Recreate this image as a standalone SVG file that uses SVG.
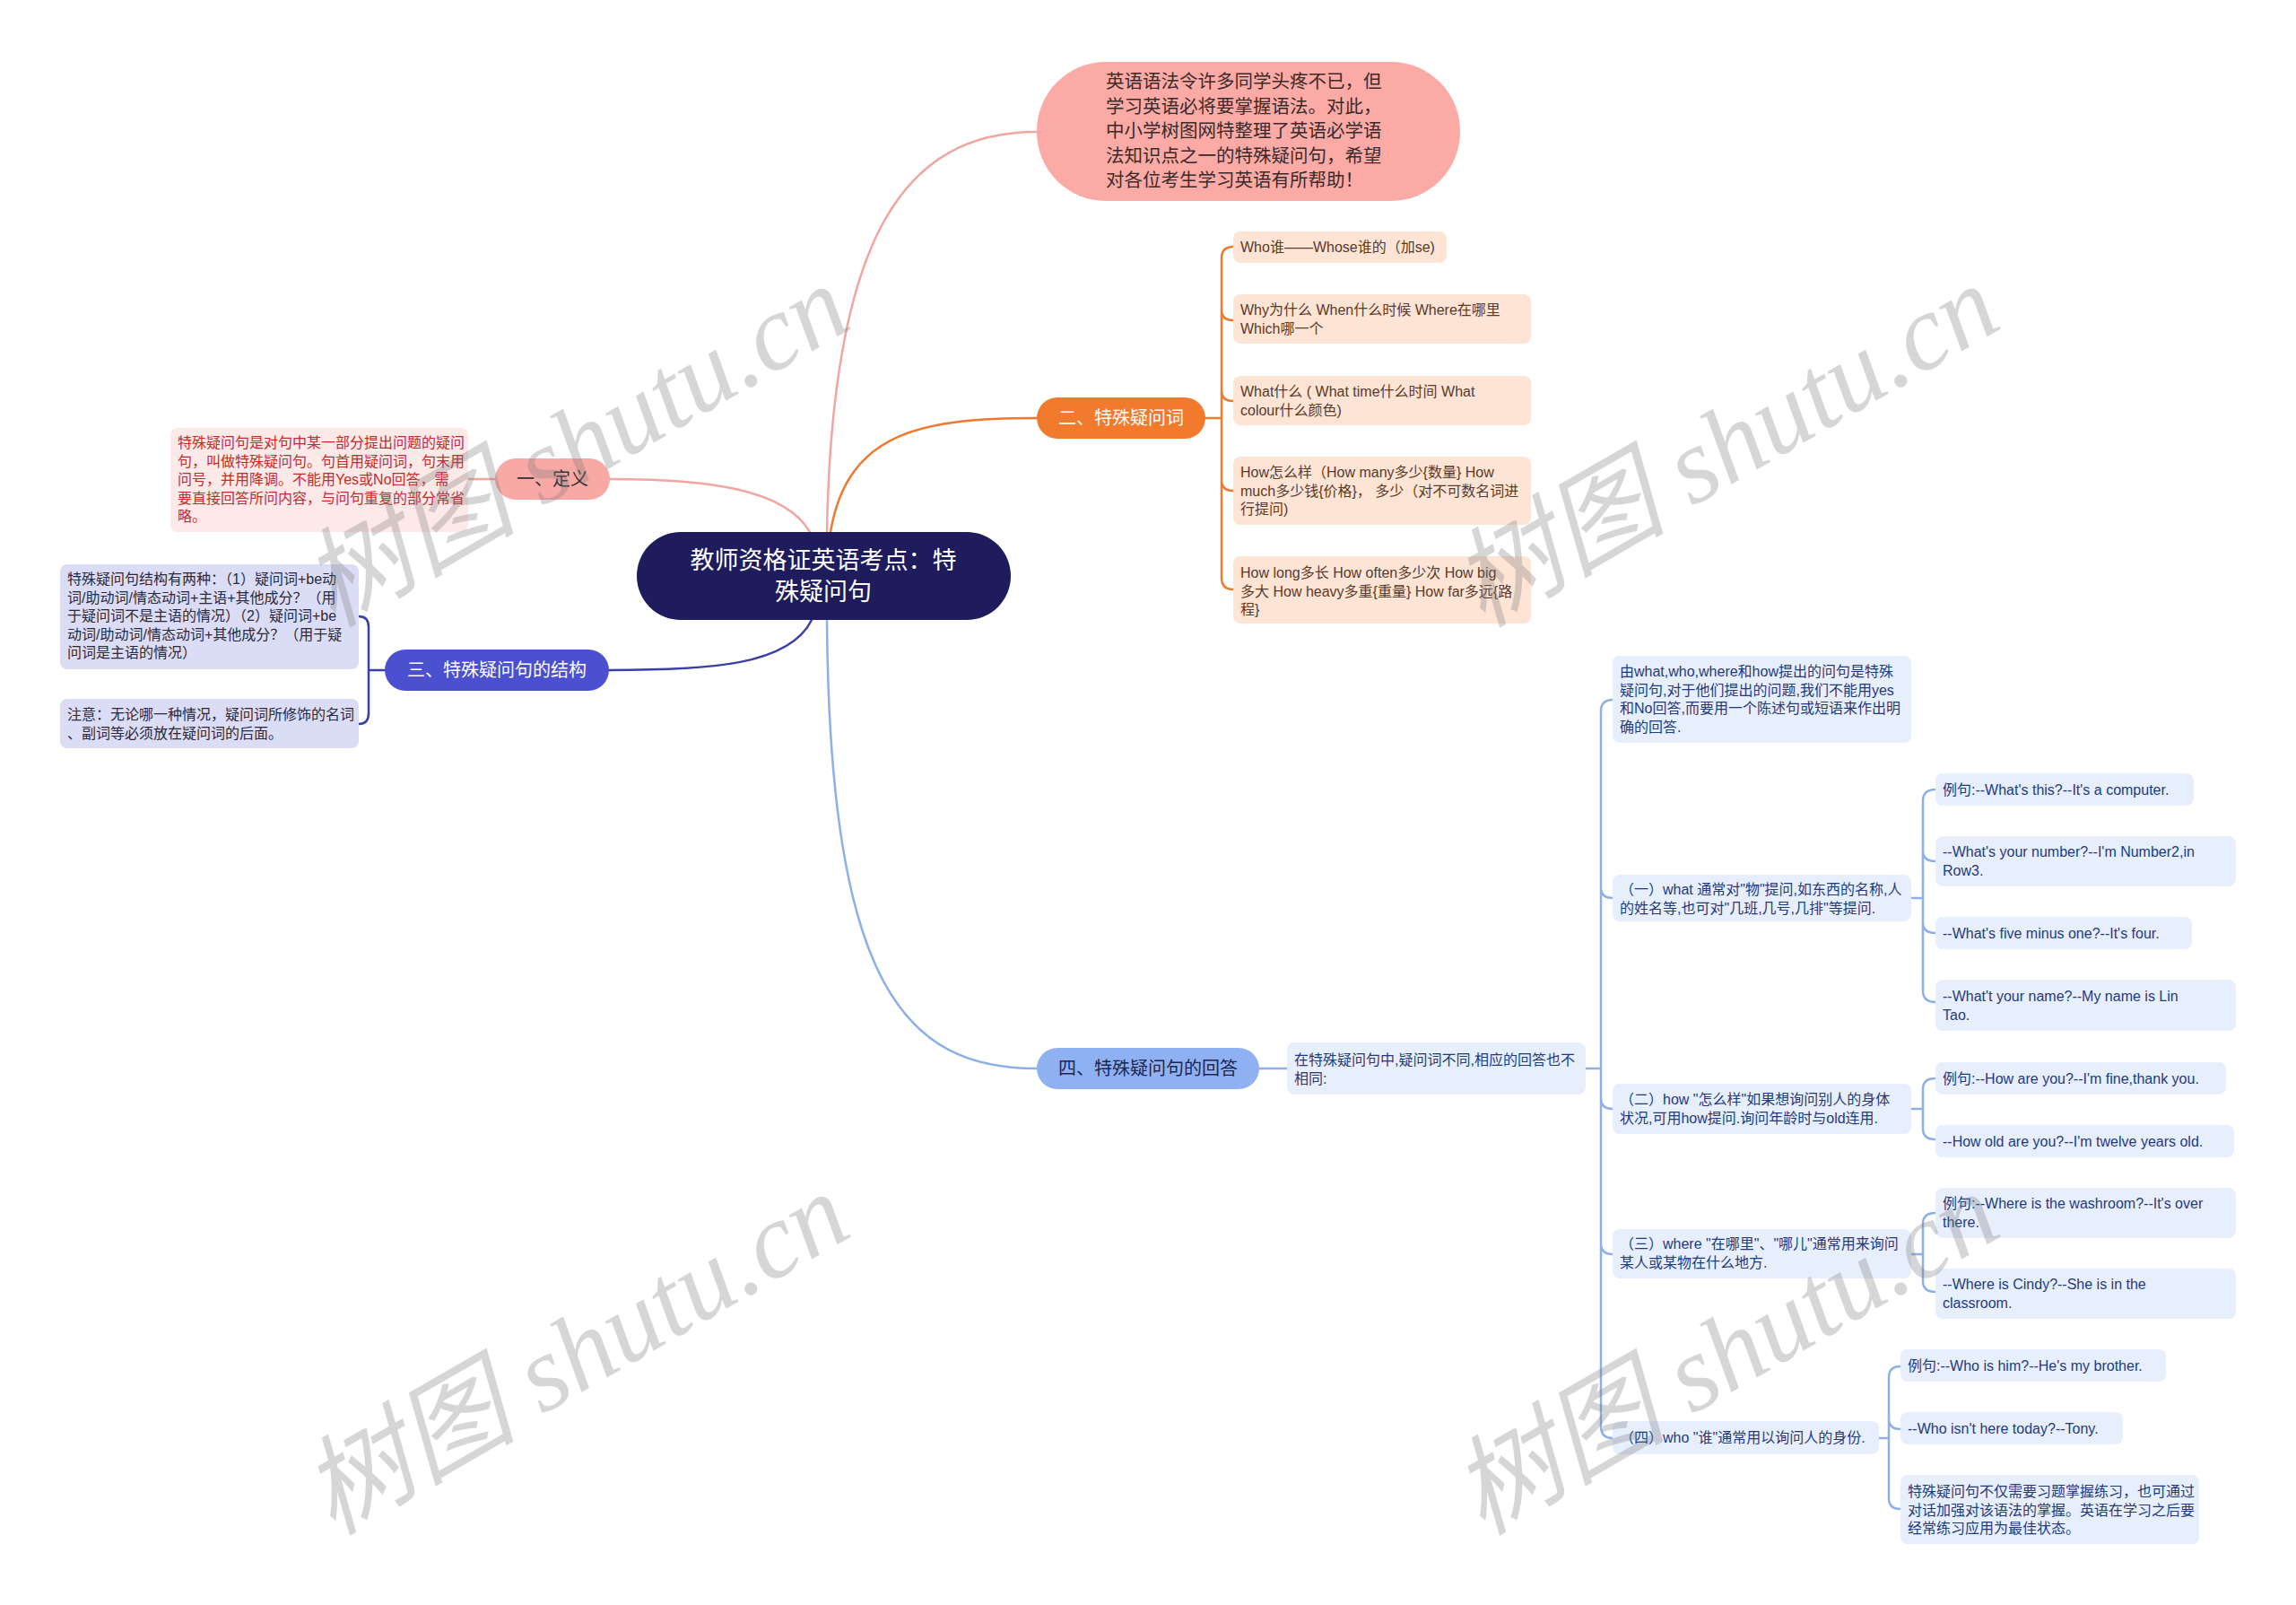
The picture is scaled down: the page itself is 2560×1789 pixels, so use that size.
<svg xmlns="http://www.w3.org/2000/svg" width="2560" height="1789" viewBox="0 0 2560 1789">
<style>
text{font-family:"Liberation Sans","Noto Sans CJK SC",sans-serif;}
.cn{font-family:"Noto Sans CJK SC","Liberation Sans",sans-serif;}
.c{fill:none;stroke-linecap:round;}
.pk{stroke:#f2a6a1;stroke-width:2.5;}
.or{stroke:#ee7a30;stroke-width:2.5;}
.ind{stroke:#3b3fa6;stroke-width:2.5;}
.lb{stroke:#8db0e8;stroke-width:2.5;}
.t16{font-size:16px;}
.peach{fill:#fde4d5;}
.peachT{fill:#5a3a28;}
.blueB{fill:#e7eefc;}
.blueT{fill:#1f3b7c;}
.lav{fill:#dbdcf6;}
.lavT{fill:#2a2a3c;}
.wm{font-family:"Liberation Serif","Noto Sans CJK SC",serif;font-style:italic;font-size:120px;fill:#7a7a7a;opacity:0.3;}
</style>

<g id="connectors">
<path class="c pk" d="M922,593 C928,260 1010,147 1156,147"/>
<path class="c or" d="M926,593 C945,480 1030,466 1156,466"/>
<path class="c pk" d="M903,593 C875,545 790,534 680,534"/>
<path class="c ind" d="M905,691 C880,742 790,747 679,747"/>
<path class="c lb" d="M922,691 C925,1100 1010,1191 1156,1191"/>
<path class="c pk" d="M552,534 H522"/>
<path class="c ind" d="M429,747 H411 M400,687 Q411,687 411,699 V795 Q411,807 400,807"/>
<path class="c or" d="M1344,466 H1362 M1375,275 Q1362,275 1362,288 V644 Q1362,657 1375,657 M1362,345 Q1362,357 1375,357 M1362,435 Q1362,447 1375,447 M1362,535 Q1362,547 1375,547"/>
<path class="c lb" d="M1404,1191 H1435"/>
<path class="c lb" d="M1768,1191 H1785 M1798,780 Q1785,780 1785,793 V1590 Q1785,1603 1798,1603 M1785,989 Q1785,1001 1798,1001 M1785,1224 Q1785,1236 1798,1236 M1785,1386 Q1785,1398 1798,1398"/>
<path class="c lb" d="M2131,1001 H2144 M2158,880 Q2144,880 2144,893 V1104 Q2144,1117 2158,1117 M2144,948 Q2144,960 2158,960 M2144,1028 Q2144,1040 2158,1040"/>
<path class="c lb" d="M2131,1236 H2144 M2158,1202 Q2144,1202 2144,1214 V1258 Q2144,1270 2158,1270"/>
<path class="c lb" d="M2131,1398 H2144 M2158,1352 Q2144,1352 2144,1364 V1428 Q2144,1440 2158,1440"/>
<path class="c lb" d="M2095,1603 H2106 M2119,1523 Q2106,1523 2106,1535 V1670 Q2106,1682 2119,1682 M2106,1581 Q2106,1593 2119,1593"/>
</g>

<g id="center">
<rect x="710" y="593" width="417" height="98" rx="49" fill="#1e1c5c"/>
<text class="cn" x="918" y="634" font-size="27" fill="#ffffff" text-anchor="middle">教师资格证英语考点：特</text>
<text class="cn" x="918" y="669" font-size="27" fill="#ffffff" text-anchor="middle">殊疑问句</text>
</g>

<g id="intro">
<rect x="1156" y="69" width="472" height="155" rx="77" fill="#fcaaa6"/>
<g class="cn" font-size="20.5" fill="#3a2a2a">
<text x="1233" y="98">英语语法令许多同学头疼不已，但</text>
<text x="1233" y="125.5">学习英语必将要掌握语法。对此，</text>
<text x="1233" y="153">中小学树图网特整理了英语必学语</text>
<text x="1233" y="180.5">法知识点之一的特殊疑问句，希望</text>
<text x="1233" y="208">对各位考生学习英语有所帮助！</text>
</g>
</g>

<g id="n1">
<rect x="552" y="511" width="128" height="46" rx="23" fill="#f8a9a6"/>
<text class="cn" x="616" y="541" font-size="20" fill="#333333" text-anchor="middle">一、定义</text>
</g>
<g id="n1-def">
<rect x="190" y="477" width="332" height="116" rx="8" fill="#fde9e8"/>
<g class="t16" fill="#c52a26">
<text x="198" y="499">特殊疑问句是对句中某一部分提出问题的疑问</text>
<text x="198" y="519.5">句，叫做特殊疑问句。句首用疑问词，句末用</text>
<text x="198" y="540">问号，并用降调。不能用Yes或No回答，需</text>
<text x="198" y="560.5">要直接回答所问内容，与问句重复的部分常省</text>
<text x="198" y="581">略。</text>
</g>
</g>

<g id="n3">
<rect x="429" y="724" width="250" height="46" rx="23" fill="#4a50cf"/>
<text class="cn" x="554" y="754" font-size="20" fill="#ffffff" text-anchor="middle">三、特殊疑问句的结构</text>
</g>
<g id="n3-a">
<rect x="67" y="629" width="333" height="117" rx="8" class="lav"/>
<g class="t16 lavT">
<text x="75" y="651">特殊疑问句结构有两种：（1）疑问词+be动</text>
<text x="75" y="671.5">词/助动词/情态动词+主语+其他成分？（用</text>
<text x="75" y="692">于疑问词不是主语的情况）（2）疑问词+be</text>
<text x="75" y="712.5">动词/助动词/情态动词+其他成分？（用于疑</text>
<text x="75" y="733">问词是主语的情况）</text>
</g>
</g>
<g id="n3-b">
<rect x="67" y="779" width="333" height="55" rx="8" class="lav"/>
<g class="t16 lavT">
<text x="75" y="802">注意：无论哪一种情况，疑问词所修饰的名词</text>
<text x="75" y="822.5">、副词等必须放在疑问词的后面。</text>
</g>
</g>

<g id="n2">
<rect x="1156" y="443" width="188" height="46" rx="23" fill="#f27a2c"/>
<text class="cn" x="1250" y="473" font-size="20" fill="#ffffff" text-anchor="middle">二、特殊疑问词</text>
</g>
<g id="n2-a">
<rect x="1375" y="258" width="238" height="35" rx="8" class="peach"/>
<text class="t16 peachT" x="1383" y="281">Who谁——Whose谁的（加se)</text>
</g>
<g id="n2-b">
<rect x="1375" y="328" width="332" height="55" rx="8" class="peach"/>
<g class="t16 peachT">
<text x="1383" y="351">Why为什么 When什么时候 Where在哪里</text>
<text x="1383" y="371.5">Which哪一个</text>
</g>
</g>
<g id="n2-c">
<rect x="1375" y="419" width="332" height="55" rx="8" class="peach"/>
<g class="t16 peachT">
<text x="1383" y="442">What什么 ( What time什么时间 What</text>
<text x="1383" y="462.5">colour什么颜色)</text>
</g>
</g>
<g id="n2-d">
<rect x="1375" y="509" width="332" height="76" rx="8" class="peach"/>
<g class="t16 peachT">
<text x="1383" y="532">How怎么样（How many多少{数量} How</text>
<text x="1383" y="552.5">much多少钱{价格}， 多少（对不可数名词进</text>
<text x="1383" y="573">行提问)</text>
</g>
</g>
<g id="n2-e">
<rect x="1375" y="620" width="332" height="75" rx="8" class="peach"/>
<g class="t16 peachT">
<text x="1383" y="644">How long多长 How often多少次 How big</text>
<text x="1383" y="664.5">多大 How heavy多重{重量} How far多远{路</text>
<text x="1383" y="685">程}</text>
</g>
</g>

<g id="n4">
<rect x="1156" y="1168" width="248" height="46" rx="23" fill="#8fb1f1"/>
<text class="cn" x="1280" y="1198" font-size="20" fill="#1d2550" text-anchor="middle">四、特殊疑问句的回答</text>
</g>
<g id="n4-intro">
<rect x="1435" y="1162" width="333" height="58" rx="8" class="blueB"/>
<g class="t16 blueT">
<text x="1443" y="1187">在特殊疑问句中,疑问词不同,相应的回答也不</text>
<text x="1443" y="1207.5">相同:</text>
</g>
</g>
<g id="n4-a">
<rect x="1798" y="731" width="333" height="97" rx="8" class="blueB"/>
<g class="t16 blueT">
<text x="1806" y="754">由what,who,where和how提出的问句是特殊</text>
<text x="1806" y="774.5">疑问句,对于他们提出的问题,我们不能用yes</text>
<text x="1806" y="795">和No回答,而要用一个陈述句或短语来作出明</text>
<text x="1806" y="815.5">确的回答.</text>
</g>
</g>
<g id="n4-b">
<rect x="1798" y="975" width="333" height="52" rx="8" class="blueB"/>
<g class="t16 blueT">
<text x="1806" y="997">（一）what 通常对"物"提问,如东西的名称,人</text>
<text x="1806" y="1017.5">的姓名等,也可对"几班,几号,几排"等提问.</text>
</g>
</g>
<g id="n4-b1">
<rect x="2158" y="862" width="288" height="36" rx="8" class="blueB"/>
<text class="t16 blueT" x="2166" y="886">例句:--What's this?--It's a computer.</text>
</g>
<g id="n4-b2">
<rect x="2158" y="932" width="335" height="56" rx="8" class="blueB"/>
<g class="t16 blueT">
<text x="2166" y="955">--What's your number?--I'm Number2,in</text>
<text x="2166" y="975.5">Row3.</text>
</g>
</g>
<g id="n4-b3">
<rect x="2158" y="1022" width="286" height="36" rx="8" class="blueB"/>
<text class="t16 blueT" x="2166" y="1046">--What's five minus one?--It's four.</text>
</g>
<g id="n4-b4">
<rect x="2158" y="1092" width="335" height="57" rx="8" class="blueB"/>
<g class="t16 blueT">
<text x="2166" y="1116">--What't your name?--My name is Lin</text>
<text x="2166" y="1136.5">Tao.</text>
</g>
</g>
<g id="n4-c">
<rect x="1798" y="1208" width="333" height="56" rx="8" class="blueB"/>
<g class="t16 blueT">
<text x="1806" y="1231">（二）how "怎么样"如果想询问别人的身体</text>
<text x="1806" y="1251.5">状况,可用how提问.询问年龄时与old连用.</text>
</g>
</g>
<g id="n4-c1">
<rect x="2158" y="1184" width="324" height="36" rx="8" class="blueB"/>
<text class="t16 blueT" x="2166" y="1208">例句:--How are you?--I'm fine,thank you.</text>
</g>
<g id="n4-c2">
<rect x="2158" y="1254" width="333" height="36" rx="8" class="blueB"/>
<text class="t16 blueT" x="2166" y="1278">--How old are you?--I'm twelve years old.</text>
</g>
<g id="n4-d">
<rect x="1798" y="1370" width="333" height="55" rx="8" class="blueB"/>
<g class="t16 blueT">
<text x="1806" y="1392">（三）where "在哪里"、"哪儿"通常用来询问</text>
<text x="1806" y="1412.5">某人或某物在什么地方.</text>
</g>
</g>
<g id="n4-d1">
<rect x="2158" y="1324" width="335" height="56" rx="8" class="blueB"/>
<g class="t16 blueT">
<text x="2166" y="1347">例句:--Where is the washroom?--It's over</text>
<text x="2166" y="1367.5">there.</text>
</g>
</g>
<g id="n4-d2">
<rect x="2158" y="1414" width="335" height="56" rx="8" class="blueB"/>
<g class="t16 blueT">
<text x="2166" y="1437">--Where is Cindy?--She is in the</text>
<text x="2166" y="1457.5">classroom.</text>
</g>
</g>
<g id="n4-e">
<rect x="1798" y="1584" width="297" height="37" rx="8" class="blueB"/>
<text class="t16 blueT" x="1806" y="1608">（四）who "谁"通常用以询问人的身份.</text>
</g>
<g id="n4-e1">
<rect x="2119" y="1504" width="296" height="36" rx="8" class="blueB"/>
<text class="t16 blueT" x="2127" y="1528">例句:--Who is him?--He's my brother.</text>
</g>
<g id="n4-e2">
<rect x="2119" y="1574" width="248" height="36" rx="8" class="blueB"/>
<text class="t16 blueT" x="2127" y="1598">--Who isn't here today?--Tony.</text>
</g>
<g id="n4-e3">
<rect x="2119" y="1644" width="333" height="77" rx="8" class="blueB"/>
<g class="t16 blueT">
<text x="2127" y="1668">特殊疑问句不仅需要习题掌握练习，也可通过</text>
<text x="2127" y="1688.5">对话加强对该语法的掌握。英语在学习之后要</text>
<text x="2127" y="1709">经常练习应用为最佳状态。</text>
</g>
</g>

<g id="watermarks">
<text class="wm" x="662" y="532" text-anchor="middle" transform="rotate(-30 662 532)">树图 shutu.cn</text>
<text class="wm" x="1944" y="532" text-anchor="middle" transform="rotate(-30 1944 532)">树图 shutu.cn</text>
<text class="wm" x="662" y="1544" text-anchor="middle" transform="rotate(-30 662 1544)">树图 shutu.cn</text>
<text class="wm" x="1944" y="1544" text-anchor="middle" transform="rotate(-30 1944 1544)">树图 shutu.cn</text>
</g>
</svg>
